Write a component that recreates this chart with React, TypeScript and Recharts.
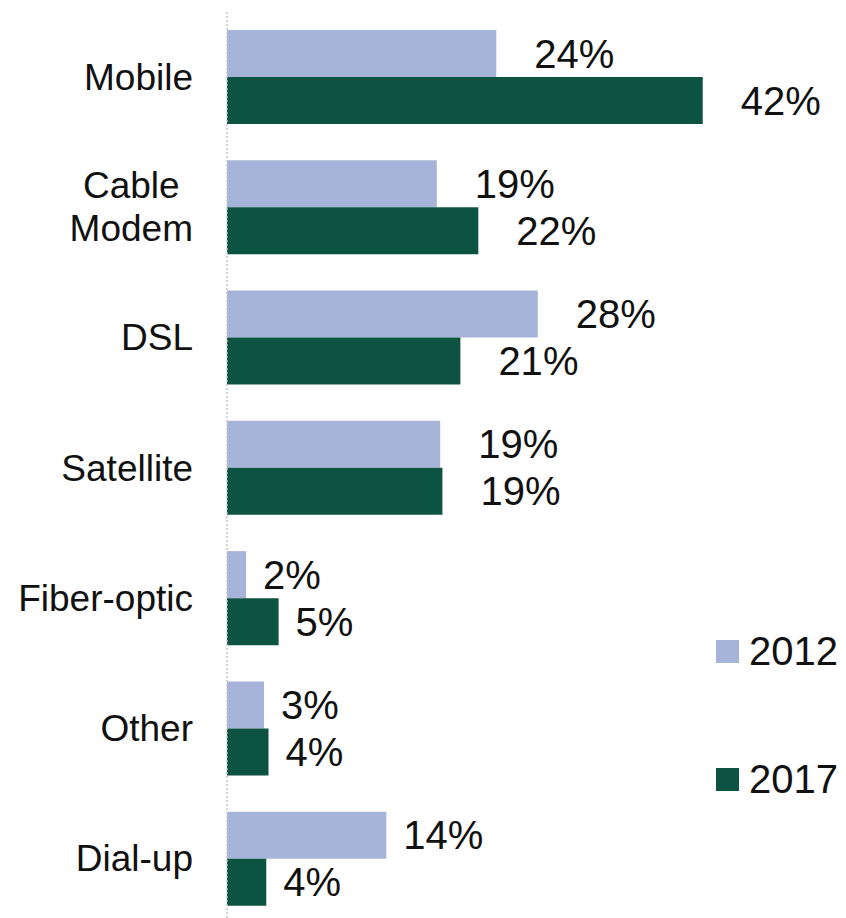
import { BarChart, Bar, XAxis, YAxis, LabelList } from 'recharts'

const categories = ['Mobile', 'Cable\nModem', 'DSL', 'Satellite', 'Fiber-optic', 'Other', 'Dial-up']
const values2012 = [24.0, 18.7, 27.7, 19.0, 1.7, 3.3, 14.2]
const values2017 = [42.4, 22.4, 20.8, 19.2, 4.6, 3.7, 3.5]
const seriesNames = ['2012', '2017']
const colors = ['#a7b4d9', '#0c5341']

const FONT = '"Liberation Sans", Arial, sans-serif'

const data = categories.map((name, i) => ({
  name,
  y2012: values2012[i],
  y2017: values2017[i],
}))

let ctx: CanvasRenderingContext2D | null = null
const measure = (text: string, size: number) => {
  if (!ctx) ctx = document.createElement('canvas').getContext('2d')
  if (!ctx) return text.length * size * 0.55
  ctx.font = `${size}px ${FONT}`
  return ctx.measureText(text).width
}

const CategoryTick = (props: any) => {
  const { x, y, payload } = props
  const lines: string[] = String(payload.value).split('\n')
  const size = 37
  const widest = Math.max(...lines.map((l) => measure(l, size)))
  const cx = x - widest / 2
  const lh = 43
  const start = y - ((lines.length - 1) * lh) / 2
  return (
    <g>
      {lines.map((l, i) => (
        <text
          key={i}
          x={cx}
          y={start + i * lh}
          textAnchor="middle"
          dominantBaseline="central"
          fontSize={size}
          fontFamily={FONT}
          fill="#111"
        >
          {l}
        </text>
      ))}
    </g>
  )
}

const ValueLabel = (props: any) => {
  const { x, y, width, height, value } = props
  const v = Math.round(Number(value))
  const gap = v >= 15 ? 38 : 17
  return (
    <text
      x={Number(x) + Number(width) + gap}
      y={Number(y) + Number(height) / 2}
      dominantBaseline="central"
      fontSize={40}
      fontFamily={FONT}
      fill="#111"
    >
      {v}%
    </text>
  )
}

export default function App() {
  return (
    <div
      style={{
        position: 'absolute',
        left: 0,
        top: 0,
        width: 846,
        height: 918,
        overflow: 'hidden',
        background: '#fff',
      }}
    >
      <BarChart
        width={846}
        height={930}
        data={data}
        layout="vertical"
        margin={{ top: 12, right: 58, bottom: 6, left: 0 }}
        barGap={0}
        barSize={47}
      >
        <XAxis type="number" domain={[0, 50]} hide />
        <YAxis
          type="category"
          dataKey="name"
          width={227}
          interval={0}
          tickSize={0}
          tickMargin={34}
          tickLine={false}
          axisLine={{ stroke: '#c8c8c8', strokeDasharray: '2 2', strokeWidth: 1.5 }}
          tick={<CategoryTick />}
        />
        <Bar dataKey="y2012" fill={colors[0]} isAnimationActive={false}>
          <LabelList dataKey="y2012" content={<ValueLabel />} />
        </Bar>
        <Bar dataKey="y2017" fill={colors[1]} isAnimationActive={false}>
          <LabelList dataKey="y2017" content={<ValueLabel />} />
        </Bar>
      </BarChart>
      <div style={{ position: 'absolute', left: 716, top: 626, fontFamily: FONT, fontSize: 40, color: '#111' }}>
        {seriesNames.map((s, i) => (
          <div key={s} style={{ display: 'flex', alignItems: 'center', height: 50, marginBottom: i === 0 ? 78 : 0 }}>
            <span style={{ width: 23, height: 23, background: colors[i], display: 'inline-block', marginRight: 10 }} />
            <span>{s}</span>
          </div>
        ))}
      </div>
    </div>
  )
}
